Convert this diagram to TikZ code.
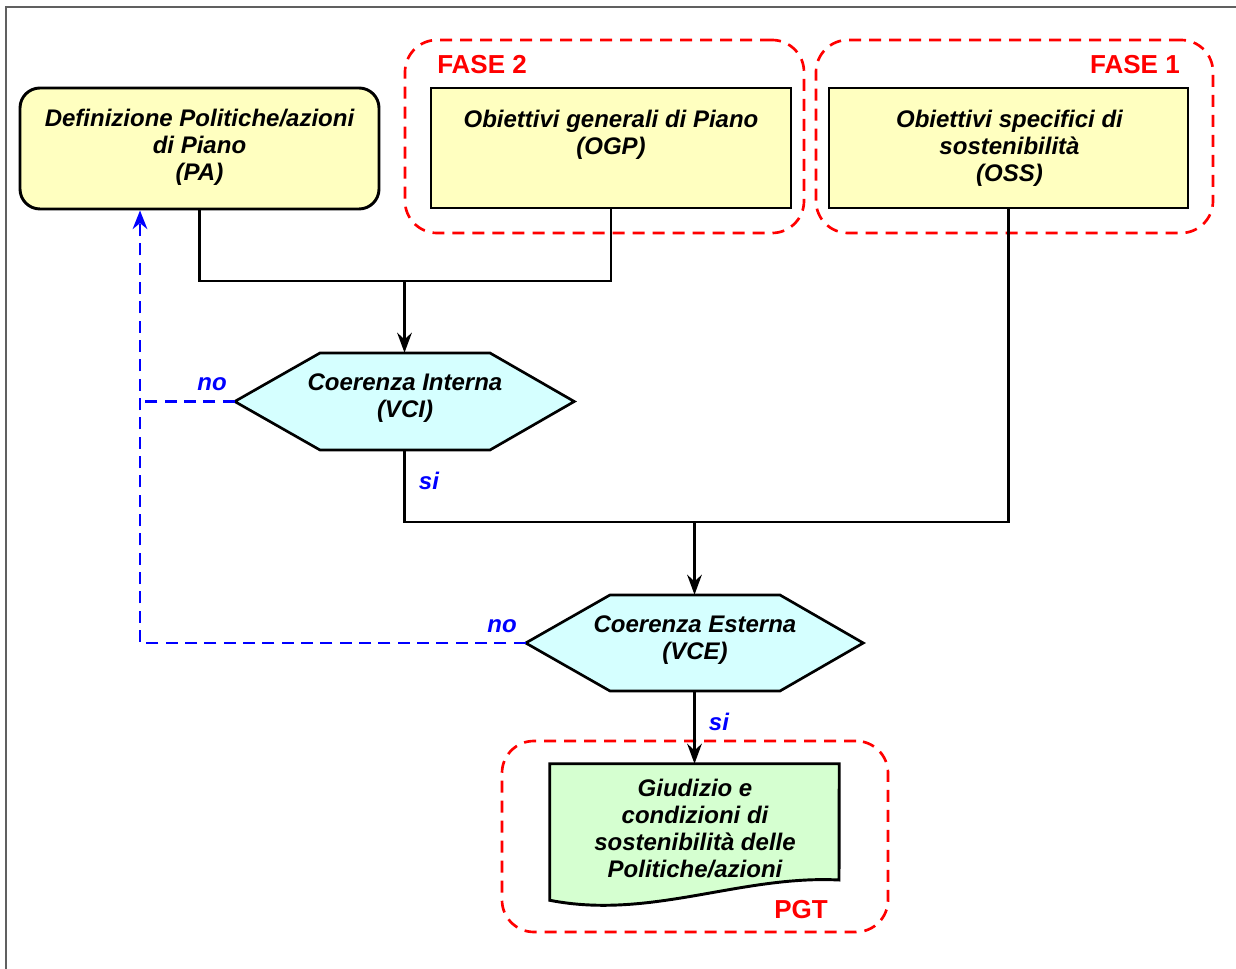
\documentclass[tikz,border=0pt]{standalone}
\usepackage{fontspec}
\setmainfont{Liberation Sans}
\usetikzlibrary{arrows.meta,fit}
\definecolor{boxyellow}{RGB}{255,255,192}
\definecolor{hexcyan}{RGB}{213,255,255}
\definecolor{docgreen}{RGB}{213,255,208}
\definecolor{framegrey}{RGB}{96,96,96}
\begin{document}
\begin{tikzpicture}[x=0.75pt,y=-0.75pt,
  txt/.style={font=\bfseries\itshape\fontsize{18}{20.25}\selectfont, align=center, inner sep=0pt},
  lbl/.style={font=\bfseries\itshape\fontsize{18}{20}\selectfont, text=blue, inner sep=0pt},
  fase/.style={font=\bfseries\fontsize{19.5}{22}\selectfont, text=red, inner sep=0pt},
  ybox/.style={draw=black, fill=boxyellow, line width=2.2pt, inner sep=0pt},
  area/.style={inner sep=0pt},
  hexshape/.style={draw=black, fill=hexcyan, line width=2pt, line join=miter},
  docshape/.style={draw=black, fill=docgreen, line width=2.2pt},
  phase/.style={draw=red, line width=2pt, dash pattern=on 9pt off 6pt, rounded corners=24pt, inner sep=0pt},
  conn/.style={draw=black, line width=1.8pt},
  arr/.style={conn, -{Stealth[length=15pt,width=11pt,inset=5pt]}},
  nopath/.style={draw=blue, line width=1.9pt, dash pattern=on 9pt off 5.5pt},
  noarr/.style={nopath, -{Stealth[length=14pt,width=11pt,inset=4.5pt]}}
]
\useasboundingbox (0,0) rectangle (1236,969);
% frame
\draw[framegrey, line width=1.5pt] (6,969) -- (6,7) -- (1236,7);

% phase groups
\node[phase, fit={(405,40) (804,233)}] (fase2) {};
\node[phase, fit={(816,40) (1213,233)}] (fase1) {};
\node[phase, fit={(502,741) (888,932)}] (pgtarea) {};
\node[fase, anchor=west] (fase2lbl) at (437,65) {FASE 2};
\node[fase, anchor=east] (fase1lbl) at (1180,65) {FASE 1};
\node[fase] (pgtlbl) at (801,910) {PGT};

% boxes
\node[ybox, rounded corners=15pt, fit={(20,88) (379,209)}] (pa) {};
\node[txt] (patext) at (199.5,147) {Definizione Politiche/azioni\\di Piano\\(PA)};
\node[ybox, fit={(431,88) (791,208)}] (ogp) {};
\node[txt] (ogptext) at (611,134.5) {Obiettivi generali di Piano\\(OGP)};
\node[ybox, fit={(829,88) (1188,208)}] (oss) {};
\node[txt] (osstext) at (1009.5,148) {Obiettivi specifici di\\sostenibilità\\(OSS)};

% hexagons
\node[area, fit={(235,353) (574,450)}] (vci) {};
\draw[hexshape] (vci.west) -- (320,353) -- (490,353) -- (vci.east) -- (490,450) -- (320,450) -- cycle;
\node[txt] (vcitext) at (405,398.5) {Coerenza Interna\\(VCI)};
\node[area, fit={(526,595) (863,691)}] (vce) {};
\draw[hexshape] (vce.west) -- (610,595) -- (780,595) -- (vce.east) -- (780,691) -- (610,691) -- cycle;
\node[txt] (vcetext) at (695,640.5) {Coerenza Esterna\\(VCE)};

% document
\node[area, fit={(550,764) (839,900)}] (doc) {};
\draw[docshape] (doc.south west) -- (doc.north west) -- (doc.north east) -- (839,880)
  .. controls (740,875) and (650,920) .. (doc.south west) -- cycle;
\node[txt] (doctext) at (695,829) {Giudizio e\\condizioni di\\sostenibilità delle\\Politiche/azioni};

% connectors
\coordinate (j1) at (404.5,281);
\draw[conn] (pa.south) |- (j1) -| (ogp.south);
\draw[arr] (j1) -- (vci.north);
\coordinate (j2) at (694.5,522);
\draw[conn] (vci.south) |- (j2) -| (oss.south);
\draw[arr] (j2) -- (vce.north);
\draw[arr] (vce.south) -- (doc.north);

% "no" feedback
\coordinate (back) at (140,643);
\draw[nopath] (vci.west) -- (vci.west -| back);
\draw[noarr] (vce.west) -| (back |- pa.south);

% labels
\node[lbl] (no1) at (212,384) {no};
\node[lbl] (si1) at (429,481) {si};
\node[lbl] (no2) at (502,626) {no};
\node[lbl] (si2) at (719,722) {si};
\end{tikzpicture}
\end{document}
